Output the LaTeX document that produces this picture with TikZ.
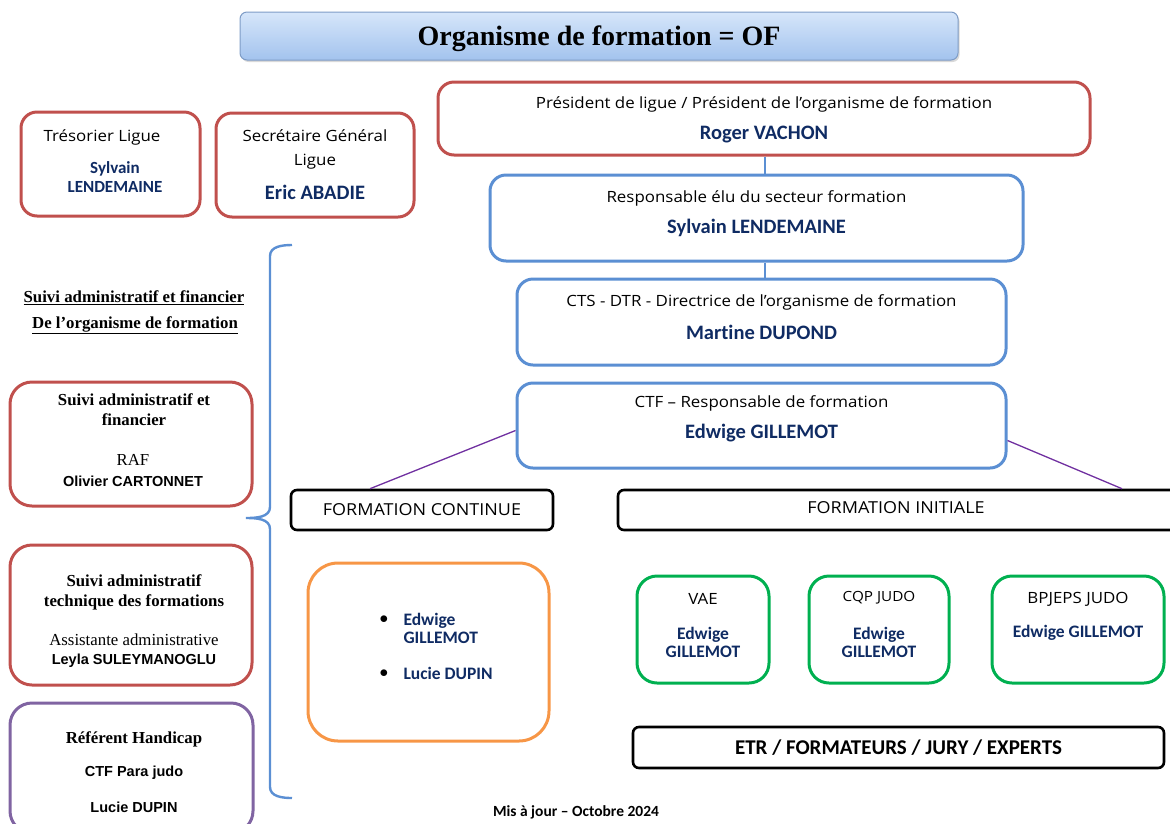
\documentclass[tikz,border=0pt]{standalone}
\usepackage{fontspec}
\setmainfont{Liberation Serif}
\newfontfamily\comic[FakeStretch=1.09]{Open Sans}
\newfontfamily\namef[Ligatures=NoCommon]{Carlito}
\newfontfamily\tah{Liberation Sans}
\usetikzlibrary{calc,shadows}
\definecolor{cred}{HTML}{C0504D}
\definecolor{cblue}{HTML}{5B8FD3}
\definecolor{cpurp}{HTML}{8064A2}
\definecolor{cline}{HTML}{7030A0}
\definecolor{corange}{HTML}{F79646}
\definecolor{cgreen}{HTML}{00B050}
\definecolor{cnavy}{HTML}{0F2B63}
\definecolor{ctitletop}{HTML}{D6E6FA}
\definecolor{ctitlebot}{HTML}{A3C3EE}
\definecolor{ctitleb}{HTML}{7E9CC6}
\begin{document}
\begin{tikzpicture}[x=1pt,y=-1pt,
  box/.style={draw,line width=3pt,rounded corners=16pt,align=center,inner sep=0pt},
  redbox/.style={box,draw=cred},
  bluebox/.style={box,draw=cblue},
  greenbox/.style={box,draw=cgreen},
  blackbox/.style={draw=black,line width=2.6pt,rounded corners=6pt,align=center,inner sep=0pt},
  nametx/.style={font=\namef\bfseries\fontsize{20.5}{22}\selectfont,text=cnavy},
  smallname/.style={nametx,font=\namef\bfseries\fontsize{17.5}{18}\selectfont},
  comictx/.style={font=\comic\fontsize{15.5}{18}\selectfont},
  tahtx/.style={font=\tah\bfseries\fontsize{14.5}{17}\selectfont},
  serifbd/.style={font=\bfseries\fontsize{16.8}{20}\selectfont},
  serifrg/.style={font=\fontsize{16.8}{20}\selectfont},
  conn/.style={line width=1.3pt},
]
\useasboundingbox (0,0) rectangle (1170,823);
\clip (0,0) rectangle (1170,823);
% title
\node[draw=ctitleb,line width=1pt,rounded corners=7pt,top color=ctitletop,bottom color=ctitlebot,
  minimum width=718pt,minimum height=48pt,inner sep=0pt,
  drop shadow={shadow xshift=1.5pt,shadow yshift=-2pt,opacity=0.3}] (title) at (599,36) {};
\node[font=\bfseries\fontsize{28}{32}\selectfont] (titleT) at (599,39) {Organisme de formation = OF};
% top-left boxes
\node[redbox,minimum width=179pt,minimum height=104pt] (treso) at (110.5,164) {};
\node[comictx] (tresoT) at (102,137) {Trésorier Ligue};
\node[nametx,align=center,font=\namef\bfseries\fontsize{17}{19.5}\selectfont] (tresoN) at (115,177) {Sylvain\\LENDEMAINE};
\node[redbox,minimum width=198pt,minimum height=104pt] (secr) at (315,165) {};
\node[comictx,align=center,font=\comic\fontsize{15.5}{24}\selectfont] (secrT) at (315,149) {Secrétaire Général\\Ligue};
\node[nametx] (secrN) at (315,192) {Eric ABADIE};
% hierarchy
\node[redbox,minimum width=652pt,minimum height=73pt] (pres) at (764,118.5) {};
\node[comictx] (presT) at (764,104) {Président de ligue / Président de l’organisme de formation};
\node[nametx] (presN) at (764,135) {Roger VACHON};
\node[bluebox,minimum width=533pt,minimum height=86pt] (elu) at (756.5,218) {};
\node[comictx] (eluT) at (756.5,198) {Responsable élu du secteur formation};
\node[nametx] (eluN) at (756.5,228) {Sylvain LENDEMAINE};
\node[bluebox,minimum width=489pt,minimum height=86pt] (cts) at (761.5,322) {};
\node[comictx] (ctsT) at (761.5,302) {CTS - DTR - Directrice de l’organisme de formation};
\node[nametx] (ctsN) at (761.5,332) {Martine DUPOND};
\node[bluebox,minimum width=489pt,minimum height=85pt] (ctf) at (761.5,425.5) {};
\node[comictx] (ctfT) at (761.5,403) {CTF – Responsable de formation};
\node[nametx] (ctfN) at (761.5,433) {Edwige GILLEMOT};
\draw[cblue,conn] (765,0 |- pres.south) -- (765,0 |- elu.north);
\draw[cblue,conn] (765,0 |- elu.south) -- (765,0 |- cts.north);
% formation headers
\node[blackbox,minimum width=262pt,minimum height=40pt,font=\comic\fontsize{16.5}{18}\selectfont] (fc) at (422,510) {FORMATION CONTINUE};
\node[blackbox,minimum width=560pt,minimum height=40pt] (fi) at (898,510) {};
\node[font=\comic\fontsize{16.5}{18}\selectfont] (fiT) at (896,508) {FORMATION INITIALE};
\coordinate (fcTop) at (370,0 |- fc.north);
\coordinate (fiTop) at (1122,0 |- fi.north);
\draw[cline,conn] ([yshift=-5pt]ctf.west) -- (fcTop);
\draw[cline,conn] ([yshift=-15pt]ctf.east) -- (fiTop);
% continue box
\node[box,draw=corange,minimum width=241pt,minimum height=178pt,rounded corners=30pt] (cont) at (428.5,652) {};
\node[font=\fontsize{16}{16}\selectfont] (b1) at (384,620) {$\bullet$};
\node[smallname,anchor=west,align=left] (c1) at (400,628) {Edwige\\GILLEMOT};
\node[font=\fontsize{16}{16}\selectfont] (b2) at (384,674) {$\bullet$};
\node[smallname,anchor=west] (c2) at (400,673) {Lucie DUPIN};
% initial boxes
\node[greenbox,minimum width=132pt,minimum height=107pt,rounded corners=20pt] (vae) at (703,629.5) {};
\node[comictx] (vaeT) at (703,599) {VAE};
\node[smallname,align=center] (vaeN) at (703,642) {Edwige\\GILLEMOT};
\node[greenbox,minimum width=140pt,minimum height=107pt,rounded corners=20pt] (cqp) at (879,629.5) {};
\node[font=\comic\fontsize{14}{16}\selectfont] (cqpT) at (879,598) {CQP JUDO};
\node[smallname,align=center] (cqpN) at (879,642) {Edwige\\GILLEMOT};
\node[greenbox,minimum width=172pt,minimum height=107pt,rounded corners=20pt] (bpj) at (1078,629.5) {};
\node[comictx] (bpjT) at (1078,599) {BPJEPS JUDO};
\node[smallname] (bpjN) at (1078,633) {Edwige GILLEMOT};
\node[blackbox,minimum width=531pt,minimum height=41pt,font=\namef\bfseries\fontsize{21}{22}\selectfont] (etr) at (898.5,747.5) {ETR / FORMATEURS / JURY / EXPERTS};
% footer
\node[font=\namef\bfseries\fontsize{15.5}{17}\selectfont] (foot) at (576,812) {Mis à jour – Octobre 2024};
% left column
\node[serifbd] (suivi1) at (134,298) {\underline{Suivi administratif et financier}};
\node[serifbd] (suivi2) at (135,325) {\underline{De l’organisme de formation}};
\node[redbox,minimum width=242pt,minimum height=124pt,rounded corners=22pt] (raf) at (131,444) {};
\node[serifbd,align=center,font=\bfseries\fontsize{16.8}{20}\selectfont] (rafT) at (134,410) {Suivi administratif et\\financier};
\node[serifrg] (rafR) at (133,460) {RAF};
\node[tahtx] (rafN) at (133,481) {Olivier CARTONNET};
\node[redbox,minimum width=242pt,minimum height=140pt,rounded corners=22pt] (tech) at (131,615) {};
\node[serifbd,align=center,font=\bfseries\fontsize{16.8}{20}\selectfont] (techT) at (134,592) {Suivi administratif\\technique des formations};
\node[serifrg] (techR) at (134,640) {Assistante administrative};
\node[tahtx] (techN) at (134,661) {Leyla SULEYMANOGLU};
\node[box,draw=cpurp,minimum width=243pt,minimum height=130pt,rounded corners=22pt] (handi) at (131.5,768) {};
\node[serifbd] (handiT) at (134,739) {Référent Handicap};
\node[tahtx] (handiR) at (134,773) {CTF Para judo};
\node[tahtx] (handiN) at (134,807) {Lucie DUPIN};
% brace
\coordinate (bTop) at (292,245);
\coordinate (bBot) at (292,798);
\coordinate (bTip) at (246,518);
\draw[cblue,line width=2.4pt] (bTop) to[out=180,in=90] (270,256) -- (270,507) to[out=-90,in=0] (bTip)
  to[out=0,in=90] (270,529) -- (270,787) to[out=-90,in=180] (bBot);
\end{tikzpicture}
\end{document}
